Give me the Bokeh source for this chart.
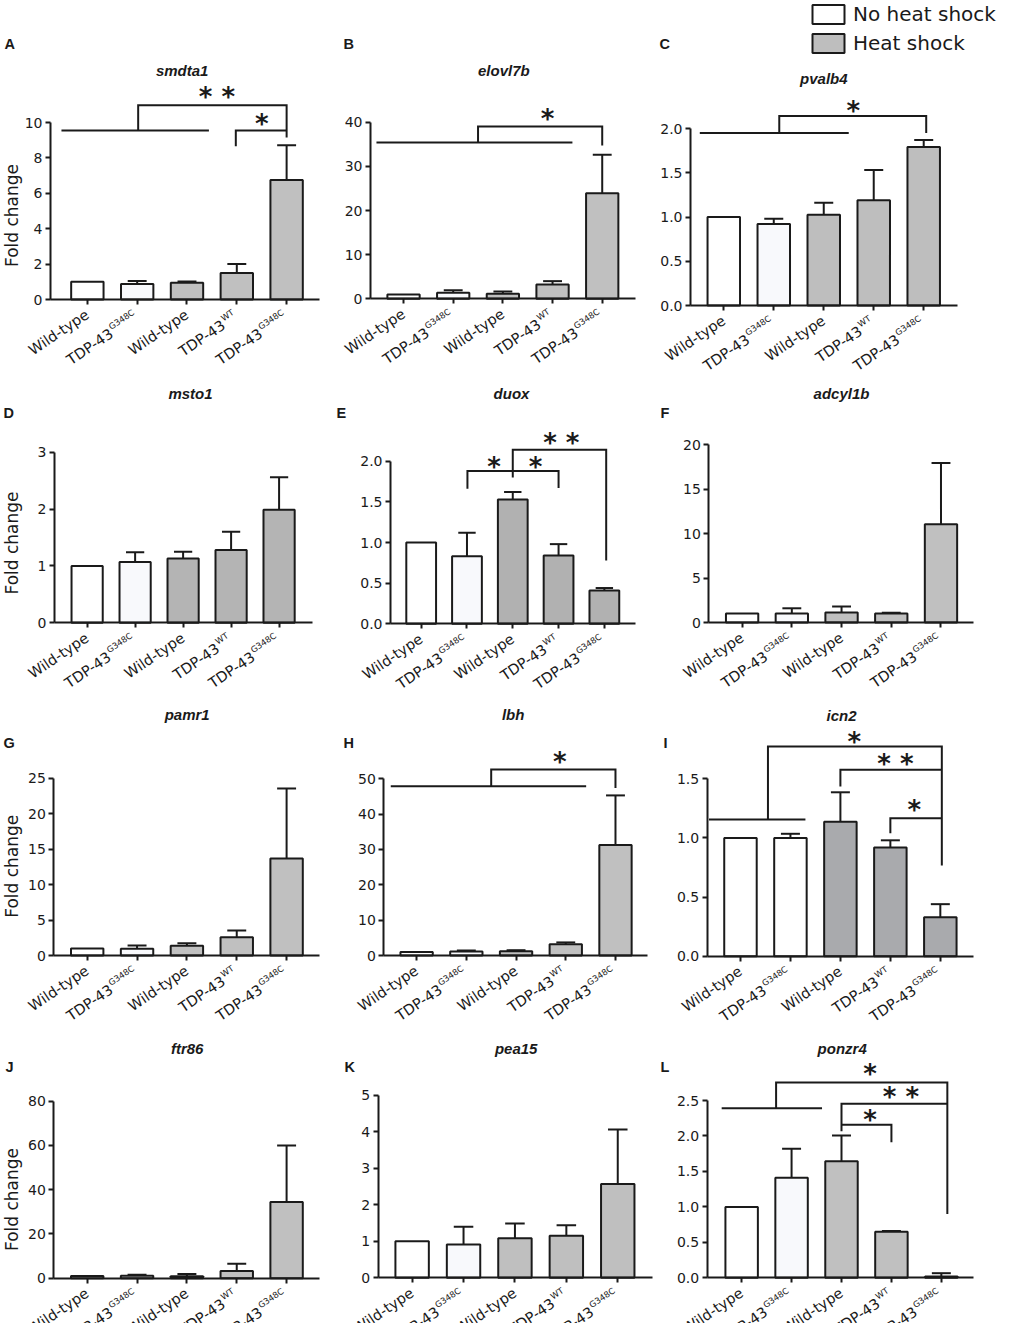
import math
from bokeh.plotting import figure
from bokeh.layouts import column, row
from bokeh.models import (Label, FixedTicker, PrintfTickFormatter, Range1d,
                          Legend, LegendItem, ColumnDataSource)
from bokeh.core.properties import value
from bokeh.embed import file_html
from bokeh.resources import INLINE

# ---------------- data ----------------
group_names = ["Wild-type", "TDP-43", "Wild-type", "TDP-43", "TDP-43"]
group_sups = ["", "G348C", "", "WT", "G348C"]
heat_shock = [False, False, True, True, True]
legend_labels = ["No heat shock", "Heat shock"]
gene_names = ["smdta1", "elovl7b", "pvalb4", "msto1", "duox", "adcyl1b",
              "pamr1", "lbh", "icn2", "ftr86", "pea15", "ponzr4"]
panel_letters = ["A", "B", "C", "D", "E", "F", "G", "H", "I", "J", "K", "L"]
y_title = "Fold change"

mean_smdta1 = [1.0, 0.88, 0.95, 1.50, 6.75]
sem_smdta1 = [0, 0.17, 0.07, 0.50, 1.97]
ticks_smdta1 = [0, 2, 4, 6, 8, 10]

mean_elovl7b = [1.0, 1.36, 1.13, 3.24, 23.9]
sem_elovl7b = [0, 0.59, 0.52, 0.76, 8.7]
ticks_elovl7b = [0, 10, 20, 30, 40]

mean_pvalb4 = [1.0, 0.92, 1.025, 1.19, 1.79]
sem_pvalb4 = [0, 0.06, 0.135, 0.34, 0.08]
ticks_pvalb4 = [0, 0.5, 1.0, 1.5, 2.0]

mean_msto1 = [1.0, 1.07, 1.13, 1.28, 1.99]
sem_msto1 = [0, 0.17, 0.12, 0.32, 0.57]
ticks_msto1 = [0, 1, 2, 3]

mean_duox = [1.0, 0.83, 1.53, 0.84, 0.41]
sem_duox = [0, 0.29, 0.09, 0.14, 0.03]
ticks_duox = [0, 0.5, 1.0, 1.5, 2.0]

mean_adcyl1b = [1.0, 1.0, 1.13, 1.0, 11.07]
sem_adcyl1b = [0, 0.6, 0.67, 0.1, 6.87]
ticks_adcyl1b = [0, 5, 10, 15, 20]

mean_pamr1 = [1.0, 0.95, 1.36, 2.58, 13.68]
sem_pamr1 = [0, 0.46, 0.38, 0.95, 9.87]
ticks_pamr1 = [0, 5, 10, 15, 20, 25]

mean_lbh = [1.0, 1.1, 1.2, 3.2, 31.3]
sem_lbh = [0, 0.3, 0.3, 0.5, 14.0]
ticks_lbh = [0, 10, 20, 30, 40, 50]

mean_icn2 = [1.0, 1.0, 1.136, 0.92, 0.33]
sem_icn2 = [0, 0.035, 0.25, 0.06, 0.11]
ticks_icn2 = [0, 0.5, 1.0, 1.5]

mean_ftr86 = [1.0, 1.1, 0.9, 3.2, 34.4]
sem_ftr86 = [0, 0.5, 1.0, 3.3, 25.6]
ticks_ftr86 = [0, 20, 40, 60, 80]

mean_pea15 = [1.0, 0.91, 1.08, 1.15, 2.57]
sem_pea15 = [0, 0.49, 0.41, 0.29, 1.49]
ticks_pea15 = [0, 1, 2, 3, 4, 5]

mean_ponzr4 = [1.0, 1.41, 1.644, 0.648, 0.02]
sem_ponzr4 = [0, 0.41, 0.362, 0.012, 0.045]
ticks_ponzr4 = [0, 0.5, 1.0, 1.5, 2.0, 2.5]

# significance brackets (x in group units, y in data units) and asterisks
sig_smdta1 = [([0.48, 3.44], [9.55, 9.55]),
              ([2.02, 2.02, 5.0, 5.0], [9.55, 10.98, 10.98, 9.15]),
              ([3.98, 3.98, 5.0], [8.66, 9.55, 9.55])]
star_smdta1 = [(3.6, 11.62, "* *"), (4.5, 10.11, "*")]
sig_elovl7b = [([0.455, 4.40], [35.4, 35.4]),
               ([2.5, 2.5, 5.0, 5.0], [35.4, 39.0, 39.0, 34.7])]
star_elovl7b = [(3.9, 41.5, "*")]
sig_pvalb4 = [([0.52, 3.5], [1.95, 1.95]),
              ([2.11, 2.11, 5.05, 5.05], [1.95, 2.14, 2.14, 1.95])]
star_pvalb4 = [(3.59, 2.23, "*")]
sig_duox = [([2.01, 2.01, 4.0, 4.0], [1.66, 1.88, 1.88, 1.67]),
            ([3.0, 3.0, 5.04, 5.04], [1.80, 2.14, 2.14, 0.78])]
star_duox = [(2.59, 1.97, "*"), (3.5, 1.97, "*"), (4.06, 2.255, "* *")]
sig_lbh = [([0.48, 4.41], [47.9, 47.9]),
           ([2.5, 2.5, 5.0, 5.0], [47.9, 52.6, 52.6, 47.4])]
star_lbh = [(3.88, 55.7, "*")]
sig_icn2 = [([0.37, 2.3], [1.155, 1.155]),
            ([1.55, 1.55, 5.03, 5.03], [1.155, 1.773, 1.773, 0.767]),
            ([3.0, 3.0, 5.03], [1.434, 1.576, 1.576]),
            ([4.0, 4.0, 5.03], [1.04, 1.167, 1.167])]
star_icn2 = [(3.28, 1.838, "*"), (4.1, 1.654, "* *"), (4.48, 1.26, "*")]
sig_ponzr4 = [([0.6, 2.61], [2.39, 2.39]),
              ([1.69, 1.69, 5.12, 5.12], [2.39, 2.753, 2.753, 0.9]),
              ([3.0, 3.0, 5.12], [2.067, 2.453, 2.453]),
              ([3.0, 4.0, 4.0], [2.157, 2.157, 1.91])]
star_ponzr4 = [(3.57, 2.91, "*"), (4.19, 2.594, "* *"), (3.57, 2.264, "*")]

means = [mean_smdta1, mean_elovl7b, mean_pvalb4, mean_msto1, mean_duox, mean_adcyl1b,
         mean_pamr1, mean_lbh, mean_icn2, mean_ftr86, mean_pea15, mean_ponzr4]
sems = [sem_smdta1, sem_elovl7b, sem_pvalb4, sem_msto1, sem_duox, sem_adcyl1b,
        sem_pamr1, sem_lbh, sem_icn2, sem_ftr86, sem_pea15, sem_ponzr4]
tick_sets = [ticks_smdta1, ticks_elovl7b, ticks_pvalb4, ticks_msto1, ticks_duox, ticks_adcyl1b,
             ticks_pamr1, ticks_lbh, ticks_icn2, ticks_ftr86, ticks_pea15, ticks_ponzr4]
sig_lines = [sig_smdta1, sig_elovl7b, sig_pvalb4, [], sig_duox, [],
             [], sig_lbh, sig_icn2, [], [], sig_ponzr4]
sig_stars = [star_smdta1, star_elovl7b, star_pvalb4, [], star_duox, [],
             [], star_lbh, star_icn2, [], [], star_ponzr4]

# ---------------- styles / layout ----------------
INK = "#1a1a1a"
FONT = "DejaVu Sans"
TFONT = "Liberation Sans"
GREY = ["#c0c0c0", "#c0c0c0", "#bebebe", "#b4b4b4", "#b1b1b1", "#c0c0c0",
        "#c0c0c0", "#c0c0c0", "#a9aaad", "#c0c0c0", "#bfbfbf", "#c0c0c0"]
LIGHT = ["#f8f9fc"] * 12
LIGHT[8] = "#ffffff"
BAR_W = 0.65
CAP = 0.19

# canvas positions in picture pixels
COL_LEFT = [0, 322, 656]
COL_W = [322, 334, 341]
ROW_TOP = [0, 380, 692, 1026]
ROW_H = [380, 312, 334, 297]

# axes: y-axis x, x-axis right end, y(0), y(top tick), x start, x end  (picture px)
GEOM = [
    (50, 319, 299, 122, 0.26, 5.66),
    (370, 635, 298.3, 121.7, 0.335, 5.67),
    (690, 956.7, 305, 128, 0.334, 5.67),
    (54, 311.7, 622.3, 451.7, 0.32, 5.69),
    (390, 635, 623.3, 460.7, 0.33, 5.68),
    (708.3, 973.3, 622, 444.3, 0.33, 5.66),
    (53.3, 319, 955, 777.7, 0.33, 5.66),
    (383.3, 647.3, 955, 778.3, 0.34, 5.65),
    (706.7, 973.3, 955.7, 778.3, 0.334, 5.67),
    (53.3, 319, 1277.7, 1100.7, 0.33, 5.66),
    (377.7, 651.7, 1277.3, 1094.7, 0.34, 5.67),
    (706.7, 973.3, 1277.3, 1100, 0.31, 5.65),
]
TITLE_POS = [(181.7, 70), (503.3, 70), (823.3, 78), (190, 393), (511, 393), (841, 393),
             (186.7, 714), (512.7, 714), (841, 715), (186.7, 1048), (515.7, 1048), (841.7, 1048)]
LETTER_POS = [(4, 43), (343, 43), (659, 43), (3, 412), (336, 412), (660, 412),
              (3, 742), (343, 742), (663, 742), (5, 1066), (344, 1066), (660, 1066)]
YLAB_Y = {0: 215, 3: 542.5, 6: 865.7, 9: 1199}
LEGEND_POS = (808, 55)

THETA = math.radians(34)
CT, ST = math.cos(THETA), math.sin(THETA)
XL_SIZE = 14.5
SUP_SIZE = 8.5
SUP_EM = {"G348C": 3.381, "WT": 1.6}
WILD_END = (0.0, -13.5)    # px from tick (x right, y up)
TDP_END = (-1.0, -16.0)
RAISE = 5.0
GAP = 1.0


def build(k):
    r, c = divmod(k, 3)
    W, H = COL_W[c], ROW_H[r]
    cl, rt = COL_LEFT[c], ROW_TOP[r]
    left, right, y0, ytp, xs, xe = GEOM[k]
    ticks = tick_sets[k]
    left_l, right_l, y0_l = left - cl, right - cl, y0 - rt
    sp = (right_l - left_l) / (xe - xs)
    x_lo = xs - left_l / sp
    x_hi = xe + (W - right_l) / sp
    ppu = (y0 - ytp) / ticks[-1]
    y_lo = -(H - y0_l) / ppu
    y_hi = y0_l / ppu
    bottom = rt + H

    p = figure(width=W, height=H, x_range=Range1d(x_lo, x_hi), y_range=Range1d(y_lo, y_hi),
               min_border=0, toolbar_location=None, tools="", output_backend="svg")
    p.outline_line_color = None
    p.grid.visible = False
    p.background_fill_color = "white"
    p.border_fill_color = "white"

    ya = p.yaxis[0]
    ya.fixed_location = xs
    ya.ticker = FixedTicker(ticks=ticks)
    decimal = any(float(t) != int(t) for t in ticks)
    ya.formatter = PrintfTickFormatter(format="%.1f" if decimal else "%d")
    ya.bounds = (0, ticks[-1])
    ya.axis_line_width = 2
    ya.axis_line_color = INK
    ya.major_tick_line_width = 2
    ya.major_tick_line_color = INK
    ya.major_tick_out = 5
    ya.major_tick_in = 0
    ya.minor_tick_line_color = None
    ya.major_label_text_font = FONT
    ya.major_label_text_font_size = "14px"
    ya.major_label_text_color = INK
    ya.major_label_standoff = 3

    xa = p.xaxis[0]
    xa.fixed_location = 0
    xa.bounds = (xs, xe)
    xa.ticker = FixedTicker(ticks=[1, 2, 3, 4, 5])
    xa.axis_line_width = 2
    xa.axis_line_color = INK
    xa.major_tick_line_width = 2
    xa.major_tick_line_color = INK
    xa.major_tick_out = 5
    xa.major_tick_in = 0
    xa.minor_tick_line_color = None
    xa.major_label_text_color = None

    xpos = [1, 2, 3, 4, 5]
    colors = ["#ffffff" if i == 0 else (LIGHT[k] if not heat_shock[i] else GREY[k])
              for i in range(5)]
    mean, sem = means[k], sems[k]
    src = ColumnDataSource(dict(x=xpos, top=mean, color=colors))
    bars = p.vbar(x="x", top="top", bottom=0, width=BAR_W, source=src, fill_color="color",
                  line_color=INK, line_width=2)

    ex = [x for x, s in zip(xpos, sem) if s > 0]
    lo = [m for m, s in zip(mean, sem) if s > 0]
    hi = [m + s for m, s in zip(mean, sem) if s > 0]
    p.segment(x0=ex, y0=lo, x1=ex, y1=hi, line_color=INK, line_width=2)
    p.segment(x0=[x - CAP for x in ex], y0=hi, x1=[x + CAP for x in ex], y1=hi,
              line_color=INK, line_width=2)

    if sig_lines[k]:
        p.multi_line(xs=[ln[0] for ln in sig_lines[k]], ys=[ln[1] for ln in sig_lines[k]],
                     line_color=INK, line_width=2, line_join="miter")
    if sig_stars[k]:
        p.text(x=[s[0] for s in sig_stars[k]], y=[s[1] for s in sig_stars[k]],
               text=[s[2] for s in sig_stars[k]], text_align="center",
               text_baseline="middle", text_font=value(FONT), text_font_size="26px",
               text_font_style="bold", text_color=INK, y_offset=3)

    # titles and panel letters
    tx, ty = TITLE_POS[k]
    p.add_layout(Label(x=tx - cl, y=bottom - ty, x_units="screen", y_units="screen",
                       text=gene_names[k], text_font=TFONT, text_font_style="bold italic",
                       text_font_size="15px", text_color=INK, text_align="center",
                       text_baseline="middle"))
    lx, ly = LETTER_POS[k]
    p.add_layout(Label(x=lx - cl, y=bottom - ly, x_units="screen", y_units="screen",
                       text=panel_letters[k], text_font=TFONT, text_font_style="bold",
                       text_font_size="14.5px", text_color=INK, text_align="left",
                       text_baseline="middle"))
    if k in YLAB_Y:
        p.add_layout(Label(x=11 - cl, y=bottom - YLAB_Y[k], x_units="screen",
                           y_units="screen", text=y_title, text_font=FONT,
                           text_font_size="17px", text_color=INK, angle=math.pi / 2,
                           text_align="center", text_baseline="middle"))

    # rotated category labels
    for i in range(5):
        name, sup = group_names[i], group_sups[i]
        if not sup:
            p.add_layout(Label(x=xpos[i], y=0, x_offset=WILD_END[0], y_offset=WILD_END[1],
                               text=name, angle=THETA, text_font=FONT,
                               text_font_size=f"{XL_SIZE}px", text_color=INK,
                               text_align="right", text_baseline="alphabetic"))
        else:
            w = SUP_EM[sup] * SUP_SIZE
            mx = TDP_END[0] - (w + GAP) * CT
            my = TDP_END[1] - (w + GAP) * ST
            sx = TDP_END[0] - w * CT - RAISE * ST
            sy = TDP_END[1] - w * ST + RAISE * CT
            p.add_layout(Label(x=xpos[i], y=0, x_offset=mx, y_offset=my, text=name,
                               angle=THETA, text_font=FONT, text_font_size=f"{XL_SIZE}px",
                               text_color=INK, text_align="right",
                               text_baseline="alphabetic"))
            p.add_layout(Label(x=xpos[i], y=0, x_offset=sx, y_offset=sy, text=sup,
                               angle=THETA, text_font=FONT, text_font_size=f"{SUP_SIZE}px",
                               text_color=INK, text_align="left",
                               text_baseline="alphabetic"))

    if k == 2:
        first_hs = heat_shock.index(True)
        leg = Legend(items=[LegendItem(label=legend_labels[0], renderers=[bars], index=0),
                            LegendItem(label=legend_labels[1], renderers=[bars],
                                       index=first_hs)],
                     location=(LEGEND_POS[0] - cl, bottom - LEGEND_POS[1]))
        leg.glyph_width = 40
        leg.glyph_height = 24
        leg.label_standoff = 5
        leg.spacing = 5
        leg.padding = 0
        leg.margin = 0
        leg.border_line_color = None
        leg.background_fill_alpha = 0
        leg.label_text_font = FONT
        leg.label_text_font_size = "20px"
        leg.label_text_color = INK
        p.add_layout(leg)
    return p


figs = [build(k) for k in range(12)]
layout = column(*[row(*figs[3 * r:3 * r + 3]) for r in range(4)])
open("out.html", "w").write(file_html(layout, INLINE))
